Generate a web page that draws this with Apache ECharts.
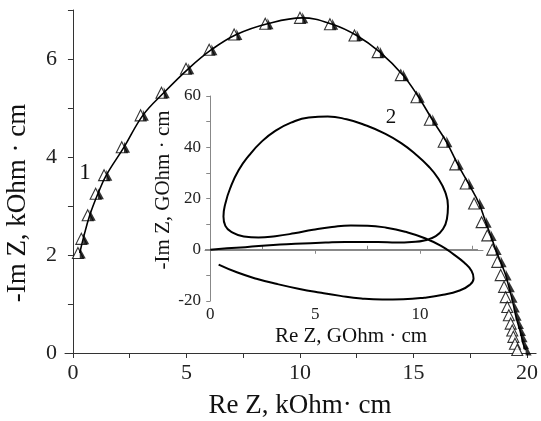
<!DOCTYPE html>
<html>
<head>
<meta charset="utf-8">
<script src="https://cdn.jsdelivr.net/npm/echarts@6/dist/echarts.min.js"></script>
<style>
  html, body { margin: 0; padding: 0; background: #fff; }
  #main { width: 541px; height: 421px; }
</style>
</head>
<body>
<div id="main"></div>
<script>
// curve 1: measured (open triangles) and calculated (filled), kOhm·cm
var expRe = [0.22, 0.37, 0.65, 1.0, 1.37, 2.15, 2.98, 3.9, 4.98, 6.0, 7.1, 8.47, 10.0, 11.32, 12.4, 13.42, 14.44, 15.13, 15.72, 16.33, 16.84, 17.3, 17.67, 18.0, 18.25, 18.47, 18.69, 18.84, 18.99, 19.06, 19.13, 19.2, 19.28, 19.35, 19.4, 19.47, 19.57];
var expIm = [2.04, 2.33, 2.81, 3.25, 3.63, 4.2, 4.85, 5.31, 5.8, 6.19, 6.5, 6.72, 6.84, 6.71, 6.48, 6.14, 5.67, 5.22, 4.76, 4.31, 3.85, 3.46, 3.05, 2.67, 2.4, 2.11, 1.86, 1.59, 1.35, 1.14, 0.94, 0.77, 0.6, 0.46, 0.33, 0.19, 0.06];
var fitRe = [0.3, 0.45, 0.74, 1.1, 1.47, 2.25, 3.08, 4.0, 5.08, 6.1, 7.2, 8.57, 10.1, 11.42, 12.5, 13.52, 14.54, 15.23, 15.83, 16.45, 16.95, 17.42, 17.89, 18.18, 18.4, 18.62, 18.84, 19.06, 19.2, 19.32, 19.42, 19.5, 19.6, 19.69, 19.76, 19.83, 19.94];
var fitIm = expIm;

// curve 2 (inset), GOhm·cm
var loopRe = [0, 0.8, 1.67, 3.0, 4.05, 5.5, 6.43, 8.0, 8.89, 9.6, 10.2, 10.75, 11.1, 11.28, 11.33, 11.2, 10.85, 10.4, 9.8, 9.1, 8.3, 7.4, 6.5, 5.6, 4.7, 3.85, 3.1, 2.45, 1.85, 1.35, 0.95, 0.72, 0.63, 0.72, 1.05, 1.6, 2.3, 3.1, 4.0, 4.9, 5.8, 6.7, 7.5, 8.4, 9.3, 10.2, 11.0, 11.6, 12.1, 12.45, 12.55, 12.35, 11.85, 11.1, 10.2, 9.2, 8.2, 7.2, 6.2, 5.2, 4.2, 3.2, 2.2, 1.3, 0.4];
var loopIm = [0, 0.6, 1.0, 1.9, 2.3, 2.8, 3.0, 3.0, 2.8, 3.0, 3.6, 5.3, 8.2, 12, 17, 22.5, 28, 32.6, 37.2, 41.6, 45.4, 48.6, 50.9, 52.0, 51.6, 49.6, 46.4, 42.2, 36.8, 31.0, 24.0, 18.0, 13, 9.3, 6.8, 5.2, 4.8, 5.3, 6.4, 7.8, 8.9, 9.5, 9.4, 8.6, 7.0, 4.6, 1.5, -1.8, -5.0, -8.2, -11.2, -13.8, -16.0, -17.6, -18.7, -19.3, -19.4, -19.0, -18.0, -16.7, -15.2, -13.4, -11.3, -8.9, -5.8];
var zeroRe = [-0.25, 12.76];

var mainTicks = [0, 2.5, 5, 7.5, 10, 12.5, 15, 17.5, 20];
var mainLabels = [0, 5, 10, 15, 20];
var mainYTicks = [0, 1, 2, 3, 4, 5, 6, 7];
var mainYLabels = [0, 2, 4, 6];
var insetXLabels = [0, 5, 10];
var insetXMinor = [2.5, 7.5, 12.5];
var insetYLabels = [-20, 0, 20, 40, 60];
var insetYMinor = [-10, 10, 30, 50];

function zip(a, b) {
  var out = [];
  for (var i = 0; i < a.length; i++) out.push([a[i], b[i]]);
  return out;
}

var serif = '"Liberation Serif", "DejaVu Serif", serif';
var myChart = echarts.init(document.getElementById('main'));

myChart.setOption({
  animation: false,
  backgroundColor: '#fff',
  grid: [
    {left: 65, top: 10, width: 472, height: 343},
    {left: 205, top: 96, width: 278, height: 205}
  ],
  xAxis: [
    {
      type: 'value', gridIndex: 0, min: -0.35, max: 20.4,
      splitLine: {show: false},
      axisLine: {lineStyle: {color: '#333', width: 1}},
      axisTick: {customValues: mainTicks, length: 5, lineStyle: {color: '#333'}},
      axisLabel: {customValues: mainLabels, fontFamily: serif, fontSize: 22, color: '#222', margin: 9}
    },
    {
      type: 'value', gridIndex: 1, min: -0.25, max: 13, position: 'bottom',
      splitLine: {show: false},
      axisLine: {lineStyle: {color: '#888', width: 1}},
      axisTick: {customValues: insetXLabels, length: 4, lineStyle: {color: '#888'}},
      axisLabel: {customValues: insetXLabels, fontFamily: serif, fontSize: 17, color: '#222', margin: 5}
    },
    {
      type: 'value', gridIndex: 1, min: -0.25, max: 13, position: 'bottom',
      splitLine: {show: false},
      axisLine: {show: false},
      axisTick: {inside: true, customValues: insetXMinor, length: 4, lineStyle: {color: '#888'}},
      axisLabel: {show: false}
    }
  ],
  yAxis: [
    {
      type: 'value', gridIndex: 0, min: 0, max: 7,
      splitLine: {show: false},
      axisLine: {show: true, lineStyle: {color: '#333', width: 1}},
      axisTick: {show: true, customValues: mainYTicks, length: 5, lineStyle: {color: '#333'}},
      axisLabel: {customValues: mainYLabels, fontFamily: serif, fontSize: 22, color: '#222', margin: 8}
    },
    {
      type: 'value', gridIndex: 1, min: -20, max: 60,
      splitLine: {show: false},
      axisLine: {show: true, lineStyle: {color: '#888', width: 1}},
      axisTick: {show: true, customValues: insetYLabels, length: 4, lineStyle: {color: '#888'}},
      axisLabel: {customValues: insetYLabels, fontFamily: serif, fontSize: 17, color: '#222', margin: 4}
    },
    {
      type: 'value', gridIndex: 1, min: -20, max: 60,
      splitLine: {show: false},
      axisLine: {show: false},
      axisTick: {show: true, inside: true, customValues: insetYMinor, length: 4, lineStyle: {color: '#888'}},
      axisLabel: {show: false}
    }
  ],
  graphic: [
    {type: 'text', x: 18, y: 203, rotation: Math.PI / 2,
      style: {text: '-Im Z, kOhm · cm', font: '27px ' + serif, fill: '#111', align: 'center', verticalAlign: 'middle'}},
    {type: 'text', x: 300, y: 406,
      style: {text: 'Re Z, kOhm· cm', font: '27px ' + serif, fill: '#111', align: 'center', verticalAlign: 'middle'}},
    {type: 'text', x: 163, y: 190, rotation: Math.PI / 2,
      style: {text: '-Im Z, GOhm · cm', font: '21px ' + serif, fill: '#111', align: 'center', verticalAlign: 'middle'}},
    {type: 'text', x: 351, y: 336,
      style: {text: 'Re Z, GOhm · cm', font: '21px ' + serif, fill: '#111', align: 'center', verticalAlign: 'middle'}},
    {type: 'text', x: 85, y: 173,
      style: {text: '1', font: '23px ' + serif, fill: '#111', align: 'center', verticalAlign: 'middle'}},
    {type: 'text', x: 391, y: 117,
      style: {text: '2', font: '21px ' + serif, fill: '#111', align: 'center', verticalAlign: 'middle'}}
  ],
  series: [
    {
      name: 'fit1', type: 'line', xAxisIndex: 0, yAxisIndex: 0,
      data: zip(fitRe, fitIm), smooth: 0.4, showSymbol: false,
      lineStyle: {color: '#000', width: 1.6}
    },
    {
      name: 'exp1', type: 'scatter', xAxisIndex: 0, yAxisIndex: 0,
      data: zip(expRe, expIm), symbol: 'triangle', symbolSize: [11, 11],
      itemStyle: {color: '#fff', borderColor: '#000', borderWidth: 1.1}
    },
    {
      name: 'calc1', type: 'scatter', xAxisIndex: 0, yAxisIndex: 0,
      data: zip(fitRe, fitIm), symbol: 'path://M0,0L0,20L10,20Z', symbolSize: [6, 11], symbolOffset: [3, 0],
      itemStyle: {color: '#000'}
    },
    {
      name: 'zero', type: 'line', xAxisIndex: 1, yAxisIndex: 1,
      data: zip(zeroRe, [0, 0]), showSymbol: false,
      lineStyle: {color: '#888', width: 1.5}
    },
    {
      name: 'loop2', type: 'line', xAxisIndex: 1, yAxisIndex: 1,
      data: zip(loopRe, loopIm), smooth: 0.5, showSymbol: false,
      lineStyle: {color: '#000', width: 2}
    }
  ]
});
</script>
</body>
</html>
